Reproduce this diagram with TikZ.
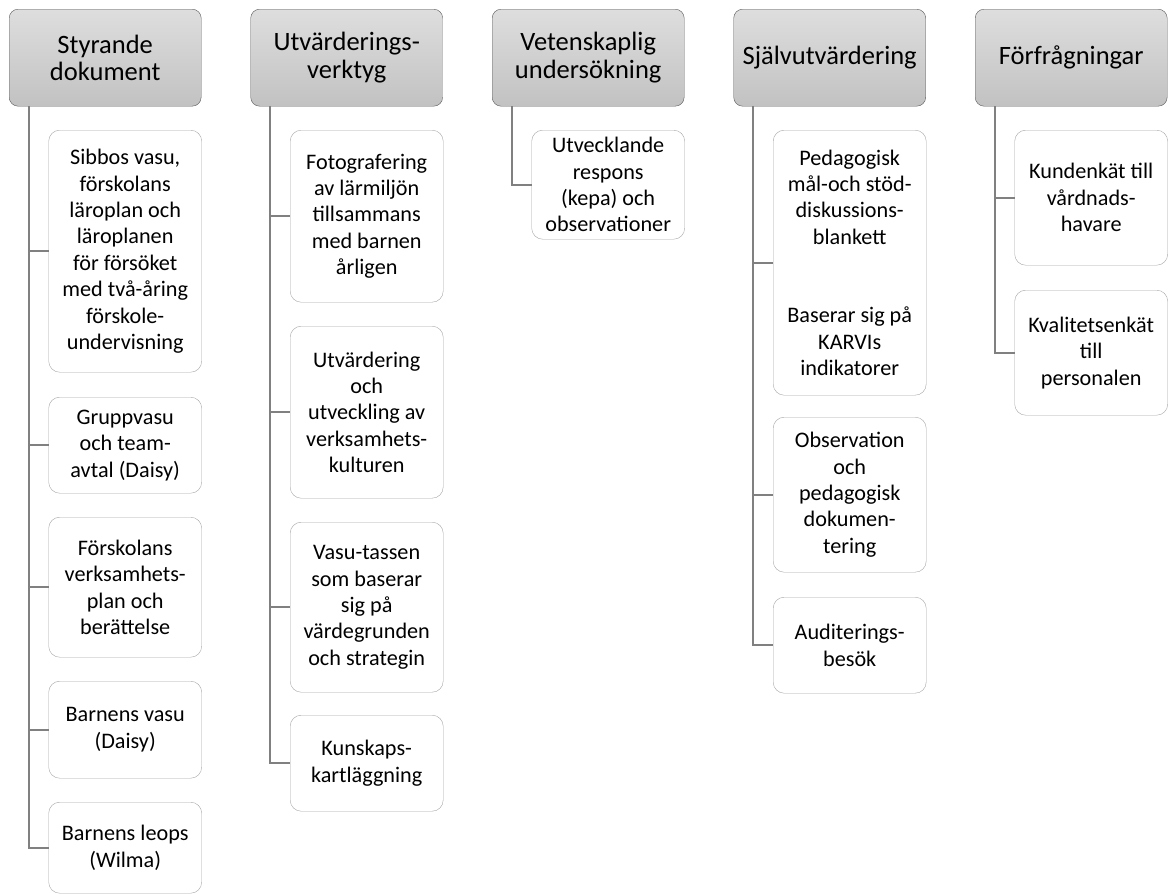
\documentclass[tikz,border=0pt]{standalone}
\usepackage{fontspec}
\setmainfont{Carlito}
\definecolor{headline}{HTML}{595959}
\definecolor{itemline}{HTML}{A6A6A6}
\definecolor{linkgray}{HTML}{808080}
\begin{document}
\begin{tikzpicture}[x=1pt,y=-1pt,
	head/.style={draw=headline,rounded corners=9pt,top color=gray!26,bottom color=gray!48,
		minimum width=192pt,minimum height=97pt,anchor=north west,align=center,
		inner sep=2pt,font=\fontsize{26.5}{27.5}\selectfont},
	item/.style={draw=itemline,fill=white,rounded corners=11pt,minimum width=153pt,
		anchor=north west,align=center,inner sep=2pt,font=\fontsize{22.2}{26.4}\selectfont},
	link/.style={draw=linkgray,line width=2pt}]
	\useasboundingbox (0,0) rectangle (1168,894);
	% headers
	\node[head] (styr) at (9,9) {Styrande\\dokument};
	\node[head] (verk) at (250.5,9) {Utvärderings-\\verktyg};
	\node[head] (vet) at (492,9) {Vetenskaplig\\undersökning};
	\node[head] (sjalv) at (733.5,9) {Självutvärdering};
	\node[head] (forf) at (975,9) {Förfrågningar};
	% Styrande dokument
	\node[item,minimum height=242pt] (styr1) at (48.5,130) {Sibbos vasu,\\förskolans\\läroplan och\\läroplanen\\för försöket\\med två-åring\\förskole-\\undervisning};
	\node[item,minimum height=96pt] (styr2) at (48.5,397) {Gruppvasu\\och team-\\avtal (Daisy)};
	\node[item,minimum height=140pt] (styr3) at (48.5,517) {Förskolans\\verksamhets-\\plan och\\berättelse};
	\node[item,minimum height=97pt] (styr4) at (48.5,681) {Barnens vasu\\(Daisy)};
	\node[item,minimum height=91pt] (styr5) at (48.5,802) {Barnens leops\\(Wilma)};
	% Utvärderingsverktyg
	\node[item,minimum height=172pt] (verk1) at (290,130) {Fotografering\\av lärmiljön\\tillsammans\\med barnen\\årligen};
	\node[item,minimum height=172pt] (verk2) at (290,326) {Utvärdering\\och\\utveckling av\\verksamhets-\\kulturen};
	\node[item,minimum height=170pt] (verk3) at (290,522) {Vasu-tassen\\som baserar\\sig på\\värdegrunden\\och strategin};
	\node[item,minimum height=96pt] (verk4) at (290,715) {Kunskaps-\\kartläggning};
	% Vetenskaplig undersökning
	\node[item,minimum height=109pt] (vet1) at (531.5,130) {Utvecklande\\respons\\(kepa) och\\observationer};
	% Självutvärdering
	\node[item,minimum height=265pt] (sjalv1) at (773,130) {Pedagogisk\\mål-och stöd-\\diskussions-\\blankett\\[52pt]Baserar sig på\\KARVIs\\indikatorer};
	\node[item,minimum height=155pt] (sjalv2) at (773,417) {Observation\\och\\pedagogisk\\dokumen-\\tering};
	\node[item,minimum height=96pt] (sjalv3) at (773,597) {Auditerings-\\besök};
	% Förfrågningar
	\node[item,minimum height=135pt] (forf1) at (1014.5,130) {Kundenkät till\\vårdnads-\\havare};
	\node[item,minimum height=125pt] (forf2) at (1014.5,290) {Kvalitetsenkät\\till\\personalen};
	% connectors
	\foreach \h/\c in {styr/styr1,styr/styr2,styr/styr3,styr/styr4,styr/styr5,
		verk/verk1,verk/verk2,verk/verk3,verk/verk4,vet/vet1,
		sjalv/sjalv1,sjalv/sjalv2,sjalv/sjalv3,forf/forf1,forf/forf2}
		\draw[link] ([xshift=19.5pt]\h.south west) |- (\c.west);
\end{tikzpicture}
\end{document}
